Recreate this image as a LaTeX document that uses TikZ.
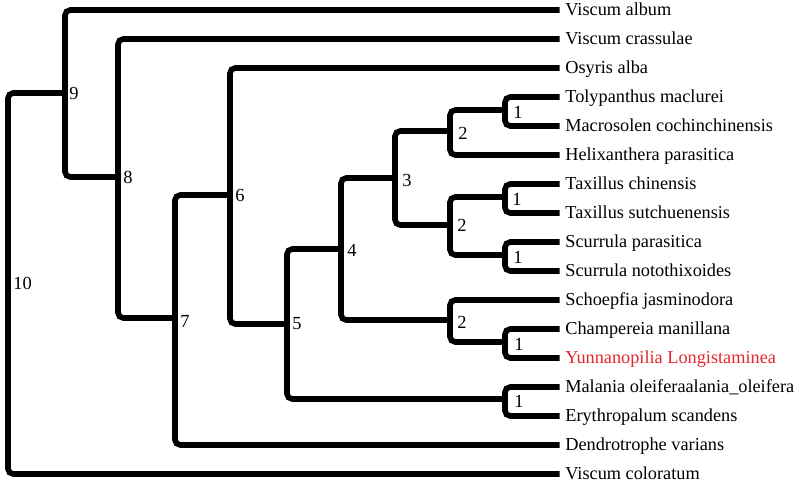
\documentclass[tikz,border=0pt]{standalone}
\usepackage{fontspec}
\setmainfont{Liberation Serif}
\usepackage{xcolor}
\usetikzlibrary{positioning}
\definecolor{ink}{HTML}{000000}
\definecolor{focus}{HTML}{E3262D}

\begin{document}
\begin{tikzpicture}[x=0.2mm,y=-0.2mm,
  branch/.style={draw=ink,line width=3.2pt,rounded corners=3pt},
  leaf/.style={anchor=west,inner sep=0pt,text height=1.6ex,text depth=.3ex,font=\fontsize{10.4}{12}\selectfont},
  bs/.style={anchor=west,inner sep=0pt,font=\fontsize{10.5}{12}\selectfont}]
  \useasboundingbox (0,0) rectangle (800,483);
  % internal nodes
  \coordinate (n10) at (8,282);
  \coordinate (n9) at (65,93);
  \coordinate (n8) at (118,177);
  \coordinate (n7) at (175,318);
  \coordinate (n6) at (230,195);
  \coordinate (n5) at (287,324);
  \coordinate (n4) at (341,249);
  \coordinate (n3) at (395,178);
  \coordinate (n2a) at (450,131);
  \coordinate (n1a) at (505,110);
  \coordinate (n2b) at (450,225);
  \coordinate (n1b) at (505,197);
  \coordinate (n1c) at (505,255);
  \coordinate (n2c) at (450,320);
  \coordinate (n1d) at (505,342);
  \coordinate (n1e) at (505,399);
  % leaves
  \node[leaf] (valb) at (565,10) {Viscum album};
  \node[leaf] (vcra) at (565,39) {Viscum crassulae};
  \node[leaf] (oalb) at (565,68) {Osyris alba};
  \node[leaf] (tmac) at (565,97) {Tolypanthus maclurei};
  \node[leaf] (mcoc) at (565,126) {Macrosolen cochinchinensis};
  \node[leaf] (hpar) at (565,155) {Helixanthera parasitica};
  \node[leaf] (tchi) at (565,184) {Taxillus chinensis};
  \node[leaf] (tsut) at (565,213) {Taxillus sutchuenensis};
  \node[leaf] (spar) at (565,242) {Scurrula parasitica};
  \node[leaf] (snot) at (565,271) {Scurrula notothixoides};
  \node[leaf] (sjas) at (565,300) {Schoepfia jasminodora};
  \node[leaf] (cman) at (565,329) {Champereia manillana};
  \node[leaf,text=focus] (ylon) at (565,358) {Yunnanopilia Longistaminea};
  \node[leaf] (mole) at (565,387) {Malania oleiferaalania\_oleifera};
  \node[leaf] (esca) at (565,416) {Erythropalum scandens};
  \node[leaf] (dvar) at (565,445) {Dendrotrophe varians};
  \node[leaf] (vcol) at (565,474) {Viscum coloratum};
  % branches
  \draw[branch] (n10) |- (n9);
  \draw[branch] (n10) |- ([xshift=-3]vcol.west);
  \draw[branch] (n9) |- ([xshift=-3]valb.west);
  \draw[branch] (n9) |- (n8);
  \draw[branch] (n8) |- ([xshift=-3]vcra.west);
  \draw[branch] (n8) |- (n7);
  \draw[branch] (n7) |- (n6);
  \draw[branch] (n7) |- ([xshift=-3]dvar.west);
  \draw[branch] (n6) |- ([xshift=-3]oalb.west);
  \draw[branch] (n6) |- (n5);
  \draw[branch] (n5) |- (n4);
  \draw[branch] (n5) |- (n1e);
  \draw[branch] (n4) |- (n3);
  \draw[branch] (n4) |- (n2c);
  \draw[branch] (n3) |- (n2a);
  \draw[branch] (n3) |- (n2b);
  \draw[branch] (n2a) |- (n1a);
  \draw[branch] (n2a) |- ([xshift=-3]hpar.west);
  \draw[branch] (n1a) |- ([xshift=-3]tmac.west);
  \draw[branch] (n1a) |- ([xshift=-3]mcoc.west);
  \draw[branch] (n2b) |- (n1b);
  \draw[branch] (n2b) |- (n1c);
  \draw[branch] (n1b) |- ([xshift=-3]tchi.west);
  \draw[branch] (n1b) |- ([xshift=-3]tsut.west);
  \draw[branch] (n1c) |- ([xshift=-3]spar.west);
  \draw[branch] (n1c) |- ([xshift=-3]snot.west);
  \draw[branch] (n2c) |- ([xshift=-3]sjas.west);
  \draw[branch] (n2c) |- (n1d);
  \draw[branch] (n1d) |- ([xshift=-3]cman.west);
  \draw[branch] (n1d) |- ([xshift=-3]ylon.west);
  \draw[branch] (n1e) |- ([xshift=-3]mole.west);
  \draw[branch] (n1e) |- ([xshift=-3]esca.west);
  % support values
  \node[bs] (l10) at (13,283) {10};
  \node[bs] (l9) at (69,93) {9};
  \node[bs] (l8) at (123,177) {8};
  \node[bs] (l7) at (180,321) {7};
  \node[bs] (l6) at (235,195) {6};
  \node[bs] (l5) at (292,324) {5};
  \node[bs] (l4) at (347,250) {4};
  \node[bs] (l3) at (402,180) {3};
  \node[bs] (l2a) at (458,133) {2};
  \node[bs] (l1a) at (513,112) {1};
  \node[bs] (l2b) at (457,225) {2};
  \node[bs] (l1b) at (512,199) {1};
  \node[bs] (l1c) at (513,257) {1};
  \node[bs] (l2c) at (457,322) {2};
  \node[bs] (l1d) at (514,344) {1};
  \node[bs] (l1e) at (514,401) {1};
\end{tikzpicture}
\end{document}
